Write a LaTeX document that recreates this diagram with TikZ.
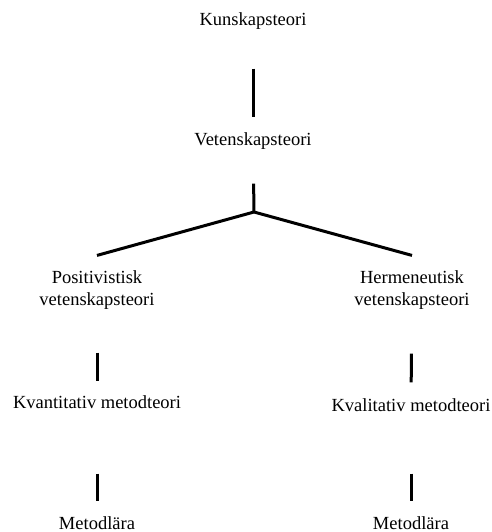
\documentclass[tikz,border=0pt]{standalone}
\usepackage{fontspec}
\setmainfont{Liberation Serif}
\usepackage{tikz}
\usetikzlibrary{positioning}

\begin{document}
\begin{tikzpicture}[x=1pt,y=-1pt]
	\tikzstyle{term} = [inner sep=0pt, align=center, text=black, font=\fontsize{18.5}{22}\selectfont]
	\tikzstyle{link} = [-, black, line width=3pt]
	\useasboundingbox (0,0) rectangle (491,532);
	
	\node (kunskap) at (253,21) [term]{Kunskapsteori};
	\node (veten) at (253,141) [term]{Vetenskapsteori};
	\coordinate (split) at (254,212);
	
	\node (posit) at (97,290) [term]{Positivistisk\\vetenskapsteori};
	\node (herme) at (412,290) [term]{Hermeneutisk\\vetenskapsteori};
	
	\node (kvant) at (97,402) [term]{Kvantitativ metodteori};
	\node (kvali) at (411,405) [term]{Kvalitativ metodteori};
	
	\node (metodl) at (97,523) [term]{Metodlära};
	\node (metodr) at (411,523) [term]{Metodlära};
	
	%Lines
	\draw[link, shorten <=39pt, shorten >=15pt] (kunskap) -- (veten);
	\draw[link, shorten <=34pt] (veten) -- (split);
	\draw[link] ([yshift=15pt]posit.north) -- (split) -- ([yshift=15pt]herme.north);
	\draw[link, shorten <=43pt, shorten >=14pt] (posit) -- (kvant);
	\draw[link, shorten <=44pt, shorten >=16pt] (herme) -- (kvali);
	\draw[link, shorten <=65pt, shorten >=15pt] (kvant) -- (metodl);
	\draw[link, shorten <=62pt, shorten >=15pt] (kvali) -- (metodr);
	
\end{tikzpicture}
\end{document}
